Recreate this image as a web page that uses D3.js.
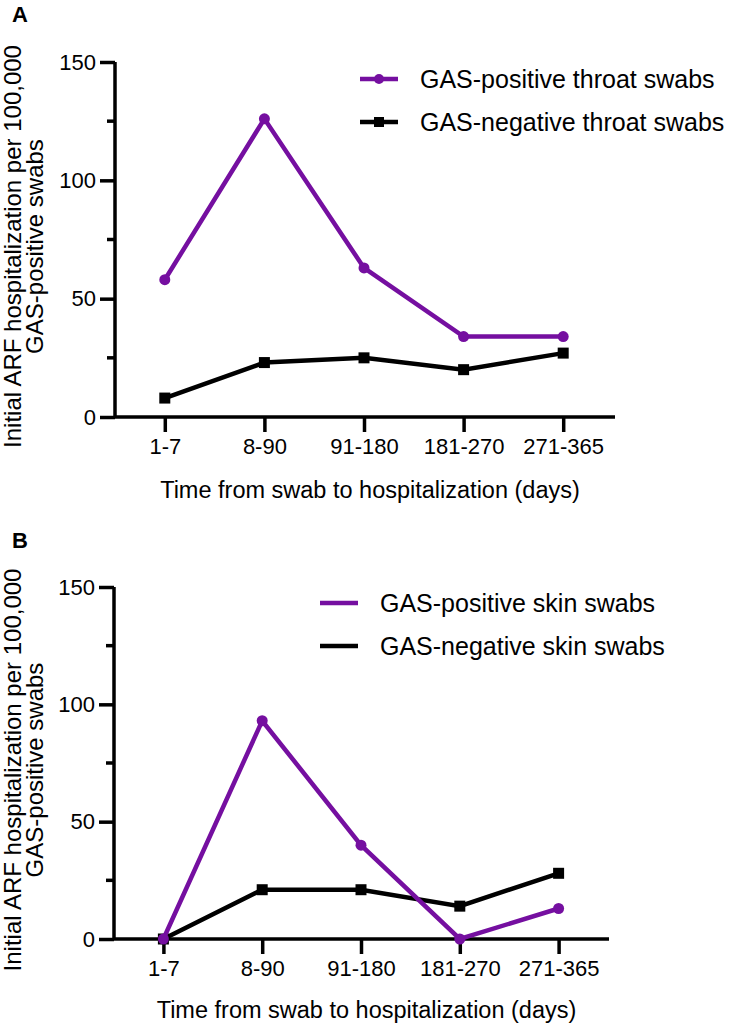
<!DOCTYPE html>
<html>
<head>
<meta charset="utf-8">
<script src="https://cdn.jsdelivr.net/npm/d3@7"></script>
<style>
  html, body { margin: 0; padding: 0; background: #fff; }
  svg { display: block; font-family: "Liberation Sans", Arial, sans-serif; }
</style>
</head>
<body>
<svg id="chart" width="730" height="1023"></svg>
<script>
// ---- data ----
const categories = ["1-7", "8-90", "91-180", "181-270", "271-365"];
const yTicks = [0, 50, 100, 150];
const yMinorTicks = [25, 75, 125];

const throatPositive = [58, 126, 63, 34, 34];
const throatNegative = [8, 23, 25, 20, 27];
const skinPositive = [0, 93, 40, 0, 13];
const skinNegative = [0, 21, 21, 14, 28];

const seriesNamesA = ["GAS-positive throat swabs", "GAS-negative throat swabs"];
const seriesNamesB = ["GAS-positive skin swabs", "GAS-negative skin swabs"];

const xTitle = "Time from swab to hospitalization (days)";
const yTitleLines = ["Initial ARF hospitalization per 100,000", "GAS-positive swabs"];

const PURPLE = "#750fa0";
const BLACK = "#000";

const svg = d3.select("#chart");

function panel(cfg) {
  const g = svg.append("g");
  const x = d3.scalePoint().domain(categories).range([cfg.x0, cfg.x1]).padding(0.5);
  const y = d3.scaleLinear().domain([0, 150]).range([cfg.yBottom, cfg.yTop]);

  // panel letter
  g.append("text").attr("x", 12).attr("y", cfg.letterY)
    .attr("font-size", 22).attr("font-weight", "bold").text(cfg.letter);

  // y axis
  const yAxis = d3.axisLeft(y).tickValues(yTicks).tickSize(15).tickPadding(4).tickFormat(d3.format("d"));
  const ya = g.append("g").attr("transform", `translate(${cfg.x0},0)`).call(yAxis);
  ya.select(".domain").attr("stroke-width", 3.5).attr("d", `M0,${cfg.yBottom}V${cfg.yTop}`);
  ya.selectAll(".tick line").attr("stroke-width", 3.5);
  ya.selectAll(".tick text").attr("font-size", 22).attr("fill", "#000");
  g.append("g").selectAll("line").data(yMinorTicks).join("line")
    .attr("x1", cfg.x0 - 8).attr("x2", cfg.x0).attr("y1", d => y(d)).attr("y2", d => y(d))
    .attr("stroke", "#000").attr("stroke-width", 3.5);

  // x axis
  const xAxis = d3.axisBottom(x).tickSize(15).tickPadding(6);
  const xa = g.append("g").attr("transform", `translate(0,${cfg.yBottom})`).call(xAxis);
  xa.select(".domain").attr("stroke-width", 3.5).attr("d", `M${cfg.x0},0H${cfg.xEnd}`);
  xa.selectAll(".tick line").attr("stroke-width", 3.5);
  xa.selectAll(".tick text").attr("font-size", 22).attr("fill", "#000");

  // x title
  g.append("text").attr("x", (cfg.x0 + cfg.xEnd) / 2 + 5).attr("y", cfg.xTitleY)
    .attr("text-anchor", "middle").attr("font-size", 23.5).text(xTitle);

  // y title
  const cy = (cfg.yTop + cfg.yBottom) / 2 + 7;
  const yt = g.append("text").attr("transform", `translate(0,${cy}) rotate(-90)`)
    .attr("text-anchor", "middle").attr("font-size", 24);
  yt.append("tspan").attr("x", 0).attr("y", 21).text(yTitleLines[0]);
  yt.append("tspan").attr("x", 0).attr("y", 43).text(yTitleLines[1]);

  const line = d3.line().x((d, i) => x(categories[i])).y(d => y(d));

  // negative (black) series
  g.append("path").datum(cfg.neg).attr("d", line).attr("fill", "none")
    .attr("stroke", BLACK).attr("stroke-width", 4.5).attr("stroke-linejoin", "miter");
  g.append("g").selectAll("rect").data(cfg.neg).join("rect")
    .attr("x", (d, i) => x(categories[i]) - 5.5).attr("y", d => y(d) - 5.5)
    .attr("width", 11).attr("height", 11).attr("fill", BLACK);

  // positive (purple) series
  g.append("path").datum(cfg.pos).attr("d", line).attr("fill", "none")
    .attr("stroke", PURPLE).attr("stroke-width", 4.5).attr("stroke-linejoin", "miter");
  g.append("g").selectAll("circle").data(cfg.pos).join("circle")
    .attr("cx", (d, i) => x(categories[i])).attr("cy", d => y(d)).attr("r", 5.5).attr("fill", PURPLE);

  // legend
  const lg = g.append("g");
  cfg.names.forEach((name, i) => {
    const ly = cfg.legY + i * 43;
    const col = i === 0 ? PURPLE : BLACK;
    lg.append("line").attr("x1", cfg.legX).attr("x2", cfg.legX + 38).attr("y1", ly).attr("y2", ly)
      .attr("stroke", col).attr("stroke-width", 4.5);
    if (cfg.legMarkers) {
      if (i === 0) lg.append("circle").attr("cx", cfg.legX + 19).attr("cy", ly).attr("r", 5).attr("fill", col);
      else lg.append("rect").attr("x", cfg.legX + 14).attr("y", ly - 5).attr("width", 10).attr("height", 10).attr("fill", col);
    }
    lg.append("text").attr("x", cfg.legX + 60).attr("y", ly).attr("dy", "0.35em")
      .attr("font-size", 25).text(name);
  });
}

panel({
  letter: "A", letterY: 22,
  x0: 115, x1: 613, xEnd: 615, yTop: 62, yBottom: 417,
  xTitleY: 498,
  pos: throatPositive, neg: throatNegative, names: seriesNamesA,
  legX: 360, legY: 79, legMarkers: true
});

panel({
  letter: "B", letterY: 548,
  x0: 114, x1: 608, xEnd: 609, yTop: 587, yBottom: 939,
  xTitleY: 1018,
  pos: skinPositive, neg: skinNegative, names: seriesNamesB,
  legX: 320, legY: 603, legMarkers: false
});
</script>
</body>
</html>
